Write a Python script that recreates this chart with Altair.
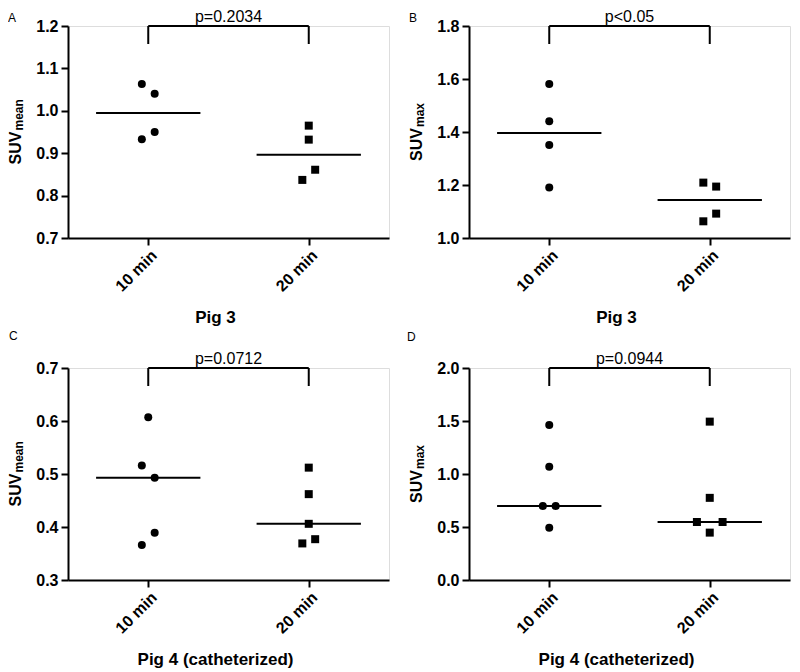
import altair as alt
import pandas as pd

groups = ["10 min", "20 min"]
panel_ids = ["A", "B", "C", "D"]
panel_titles = ["Pig 3", "Pig 3", "Pig 4 (catheterized)", "Pig 4 (catheterized)"]
y_main = "SUV"
y_subscripts = ["mean", "max", "mean", "max"]
p_labels = ["p=0.2034", "p<0.05", "p=0.0712", "p=0.0944"]
y_domains = [[0.7, 1.2], [1.0, 1.8], [0.3, 0.7], [0.0, 2.0]]
y_ticks = [
    [0.7, 0.8, 0.9, 1.0, 1.1, 1.2],
    [1.0, 1.2, 1.4, 1.6, 1.8],
    [0.3, 0.4, 0.5, 0.6, 0.7],
    [0.0, 0.5, 1.0, 1.5, 2.0],
]

a_10 = [1.063, 1.040, 0.950, 0.933]
a_20 = [0.965, 0.932, 0.861, 0.837]
b_10 = [1.581, 1.441, 1.351, 1.191]
b_20 = [1.209, 1.194, 1.092, 1.063]
c_10 = [0.607, 0.516, 0.493, 0.389, 0.366]
c_20 = [0.512, 0.462, 0.406, 0.377, 0.369]
d_10 = [1.463, 1.069, 0.697, 0.697, 0.494]
d_20 = [1.494, 0.775, 0.547, 0.547, 0.447]

# column-scatter slot of each point (GraphPad style side-by-side placement)
a_10_slot = [-1, 1, 1, -1]
a_20_slot = [0, 0, 1, -1]
b_10_slot = [0, 0, 0, 0]
b_20_slot = [-1, 1, 1, -1]
c_10_slot = [0, -1, 1, 1, -1]
c_20_slot = [0, 0, 0, 1, -1]
d_10_slot = [0, 0, -1, 1, 0]
d_20_slot = [0, 0, -2, 2, 0]

series = [
    (a_10, a_20, a_10_slot, a_20_slot),
    (b_10, b_20, b_10_slot, b_20_slot),
    (c_10, c_20, c_10_slot, c_20_slot),
    (d_10, d_20, d_10_slot, d_20_slot),
]

FONT = "Liberation Sans"
W, H = 321, 212
SLOT = 0.08
HALF = 0.65
letter_pos = [(-60, -4), (-60, -4), (-59, -28), (-62, -27)]


def panel(i):
    v10, v20, s10, s20 = series[i]
    rows = []
    for gi, (vals, slots) in enumerate([(v10, s10), (v20, s20)]):
        for v, s in zip(vals, slots):
            rows.append({"group": groups[gi], "gx": 1 + 2 * gi,
                         "xpos": 1 + 2 * gi + s * SLOT, "value": v})
    df = pd.DataFrame(rows)
    lo, hi = y_domains[i]
    xscale = alt.Scale(domain=[0, 4], nice=False, zero=False)
    yscale = alt.Scale(domain=[lo, hi], nice=False, zero=False)
    xaxis = alt.Axis(
        values=[1, 3],
        labelExpr="datum.value == 1 ? '" + groups[0] + "' : '" + groups[1] + "'",
        labelAngle=-45, labelFont=FONT, labelFontSize=16, labelFontWeight="bold",
        labelColor="black", labelPadding=2, tickSize=7, tickWidth=2, tickColor="black",
        domainColor="black", domainWidth=2, grid=False,
        title=panel_titles[i], titleFont=FONT, titleFontSize=17, titleFontWeight="bold",
        titleColor="black", titleX=147, titleY=84, titleAlign="center",
        titleBaseline="alphabetic",
    )
    yaxis = alt.Axis(
        values=y_ticks[i], format=".1f", labelFont=FONT, labelFontSize=16,
        labelFontWeight="bold", labelColor="black", labelPadding=3, tickSize=7,
        tickWidth=2, tickColor="black", domainColor="black", domainWidth=2,
        grid=False, title=None,
    )
    base = alt.Chart(df)
    pts = base.mark_point(filled=True, opacity=1, color="black", size=64).encode(
        x=alt.X("xpos:Q", scale=xscale, axis=xaxis),
        y=alt.Y("value:Q", scale=yscale, axis=yaxis),
        shape=alt.Shape("group:N", scale=alt.Scale(domain=groups, range=["circle", "square"]),
                        legend=None),
    )
    med = base.transform_aggregate(
        med="median(value)", groupby=["group", "gx"]
    ).transform_calculate(
        xa="datum.gx - %f" % HALF, xb="datum.gx + %f" % HALF
    ).mark_rule(color="black", strokeWidth=2).encode(
        x=alt.X("xa:Q", scale=xscale, axis=xaxis),
        x2="xb:Q",
        y=alt.Y("med:Q", scale=yscale, axis=yaxis),
    )
    bdf = pd.DataFrame({"bx1": [1], "bx2": [3], "by": [hi], "bmid": [2], "p": [p_labels[i]]})
    bchart = alt.Chart(bdf)
    bh = bchart.mark_rule(color="black", strokeWidth=2).encode(
        x=alt.X("bx1:Q", scale=xscale, axis=xaxis), x2="bx2:Q",
        y=alt.Y("by:Q", scale=yscale, axis=yaxis),
    )
    vdf = pd.DataFrame({"vx": [1, 3], "by": [hi, hi]})
    bv = alt.Chart(vdf).mark_rule(color="black", strokeWidth=2).encode(
        x=alt.X("vx:Q", scale=xscale, axis=xaxis),
        y=alt.Y("by:Q", scale=yscale, axis=yaxis),
        y2=alt.value(18),
    )
    ptxt = bchart.mark_text(font=FONT, fontSize=16, color="black", baseline="alphabetic",
                            align="center", dy=-4).encode(
        x=alt.X("bmid:Q", scale=xscale, axis=xaxis),
        y=alt.Y("by:Q", scale=yscale, axis=yaxis),
        text="p:N",
    )
    lx, ly = letter_pos[i]
    ldf = pd.DataFrame({"t": [panel_ids[i]], "s": [y_main], "sub": [y_subscripts[i]]})
    lchart = alt.Chart(ldf)
    letter = lchart.mark_text(font=FONT, fontSize=12, color="black", align="left",
                              baseline="alphabetic").encode(
        text="t:N", x=alt.value(lx), y=alt.value(ly))
    sub_len = 31 if y_subscripts[i] == "mean" else 24
    total = 33 + 1 + sub_len
    suv = lchart.mark_text(font=FONT, fontSize=16, fontWeight="bold", color="black",
                           angle=270, align="left", baseline="alphabetic").encode(
        text="s:N", x=alt.value(-47), y=alt.value(H / 2 + total / 2))
    sub = lchart.mark_text(font=FONT, fontSize=12, fontWeight="bold", color="black",
                           angle=270, align="left", baseline="alphabetic").encode(
        text="sub:N", x=alt.value(-45), y=alt.value(H / 2 + total / 2 - 34))
    return alt.layer(pts, med, bh, bv, ptxt, letter, suv, sub).properties(width=W, height=H)


chart = alt.concat(
    panel(0), panel(1), panel(2), panel(3),
    columns=2, spacing={"row": 130, "column": 80}, bounds="flush",
).properties(
    padding={"top": 0, "left": -1, "right": 0, "bottom": 0}
).configure_view(stroke=None).configure(background="white")

chart.save("out.html", embed_options={"renderer": "svg", "actions": False})
